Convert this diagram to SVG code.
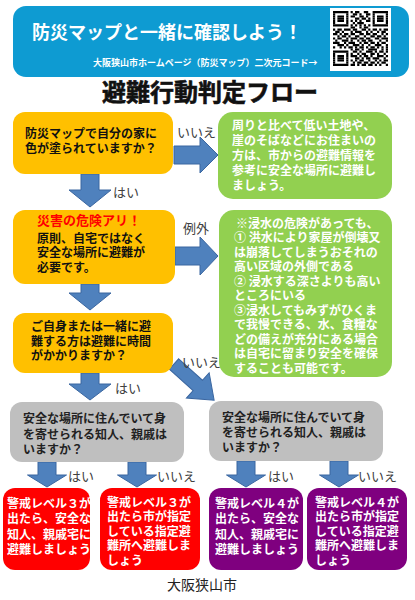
<svg xmlns="http://www.w3.org/2000/svg" width="415" height="600" viewBox="0 0 415 600">
<style>
text{font-family:"Noto Sans CJK JP","Noto Sans CJK SC",sans-serif}
.b{font-weight:bold;font-size:12px}
.wt{fill:#fff}
.dk{fill:#111}
.lbl{font-size:13px;fill:#404040}
.arr{fill:#4F81BD;stroke:#3A66A0;stroke-width:1}
.orange{fill:#FFC000}
.green{fill:#92D050}
.gray{fill:#BFBFBF}
.red{fill:#FF0000}
.purple{fill:#7F007F}
.qr path{stroke:#000;stroke-width:1;fill:none}
</style>
<rect width="415" height="600" fill="#fff"/>
<g id="header">
<rect x="13" y="6" width="396" height="71" rx="13" fill="#0E9BD2"/>
<text x="32" y="39" class="wt" font-size="18" font-weight="bold">防災マップと一緒に確認しよう！</text>
<text x="93" y="65.5" class="wt" font-size="9" font-weight="bold">大阪狭山市ホームページ（防災マップ）二次元コード→</text>
<rect x="330" y="8" width="61" height="63" fill="#fff"/>
<g class="qr" transform="translate(333,11) scale(2.2)">
<path d="M0 .5h25" stroke-dasharray="7 1 1 1 2 2 2 2 7"/>
<path d="M0 1.5h25" stroke-dasharray="1 5 1 2 2 1 1 2 2 1 1 5 1"/>
<path d="M0 2.5h25" stroke-dasharray="1 1 3 1 1 1 2 2 2 1 1 2 1 1 3 1 1"/>
<path d="M0 3.5h25" stroke-dasharray="1 1 3 1 1 3 2 1 2 1 1 1 1 1 3 1 1"/>
<path d="M0 4.5h25" stroke-dasharray="1 1 3 1 1 1 1 1 1 1 1 2 2 1 1 1 3 1 1"/>
<path d="M0 5.5h25" stroke-dasharray="1 5 1 2 1 1 3 4 1 5 1"/>
<path d="M0 6.5h25" stroke-dasharray="7 1 1 1 1 1 1 1 1 1 1 1 7"/>
<path d="M0 7.5h25" stroke-dasharray="0 8 2 2 1 1 2 9"/>
<path d="M0 8.5h25" stroke-dasharray="1 1 2 1 3 1 2 2 2 1 1 1 2 1 1 1 2"/>
<path d="M0 9.5h25" stroke-dasharray="0 1 2 1 1 3 1 1 3 2 1 1 1 2 1 1 2 1"/>
<path d="M0 10.5h25" stroke-dasharray="2 1 1 1 2 1 2 2 2 1 2 1 2 2 1 1 1"/>
<path d="M0 11.5h25" stroke-dasharray="0 2 1 1 2 1 1 2 2 2 1 2 2 1 2 1 1 1"/>
<path d="M0 12.5h25" stroke-dasharray="1 1 2 2 1 1 3 1 2 1 2 2 2 1 3"/>
<path d="M0 13.5h25" stroke-dasharray="0 1 1 2 3 1 1 2 1 1 2 1 2 3 1 2 1"/>
<path d="M0 14.5h25" stroke-dasharray="3 2 1 1 3 2 1 1 2 1 2 1 1 1 2 1"/>
<path d="M0 15.5h25" stroke-dasharray="0 2 3 1 1 2 3 1 1 2 1 2 3 2 1"/>
<path d="M0 16.5h25" stroke-dasharray="1 2 1 1 1 1 2 1 1 1 2 1 1 1 2 1 1 1 1 1 1"/>
<path d="M0 17.5h25" stroke-dasharray="0 8 1 1 2 1 1 2 4 2 1 1 1"/>
<path d="M0 18.5h25" stroke-dasharray="7 2 2 1 1 2 3 1 1 1 2 1 1"/>
<path d="M0 19.5h25" stroke-dasharray="1 5 1 1 1 2 1 1 2 2 2 1 1 2 1 1"/>
<path d="M0 20.5h25" stroke-dasharray="1 1 3 1 1 1 3 1 1 1 2 1 1 2 3 1 1"/>
<path d="M0 21.5h25" stroke-dasharray="1 1 3 1 1 3 2 1 1 1 2 1 3 2 1 1"/>
<path d="M0 22.5h25" stroke-dasharray="1 1 3 1 1 1 1 1 1 1 2 2 1 2 1 1 1 1 2"/>
<path d="M0 23.5h25" stroke-dasharray="1 5 1 2 1 1 2 1 2 1 2 1 1 1 2 1"/>
<path d="M0 24.5h25" stroke-dasharray="7 1 2 1 1 1 2 1 2 1 1 1 1 2 1"/>
</g>
</g>
<g id="title">
<text x="210" y="101" text-anchor="middle" font-size="24" font-weight="bold" fill="#111" stroke="#111" stroke-width="0.6">避難行動判定フロー</text>
</g>
<g id="connectors">
<path class="arr" d="M81 174H99V190H111L90 207L69 190H81Z"/>
<path class="arr" d="M81 284H99V293H111L90 310L69 293H81Z"/>
<path class="arr" d="M81 373H99V384H111L90 400L69 384H81Z"/>
<path class="arr" d="M174 146H200V137L218 155L200 173V164H174Z"/>
<path class="arr" d="M175 247H200V237L218 256L200 275V265H175Z"/>
<path class="arr" transform="translate(174,364) rotate(42)" d="M0 -7H32V-17L54 0L32 17V7H0Z"/>
<path class="arr" d="M38 462H56V475H66.5L47 487L27.5 475H38Z"/>
<path class="arr" d="M128 462H146V475H156.5L137 487L117.5 475H128Z"/>
<path class="arr" d="M237 461H255V475H265.5L246 487L226.5 475H237Z"/>
<path class="arr" d="M330 461H348V475H358.5L339 487L319.5 475H330Z"/>
<text class="lbl" x="177" y="137">いいえ</text>
<text class="lbl" x="113" y="197">はい</text>
<text class="lbl" x="183" y="233">例外</text>
<text class="lbl" x="182" y="367">いいえ</text>
<text class="lbl" x="115" y="393">はい</text>
<text class="lbl" x="68" y="481">はい</text>
<text class="lbl" x="157" y="481">いいえ</text>
<text class="lbl" x="268" y="481">はい</text>
<text class="lbl" x="358" y="481">いいえ</text>
</g>
<g id="q1">
<rect class="orange" x="13" y="112" width="160" height="62" rx="12"/>
<text class="b dk" x="25" y="137.5">防災マップで自分の家に</text>
<text class="b dk" x="25" y="152.5">色が塗られていますか？</text>
</g>
<g id="info1">
<rect class="green" x="218" y="112" width="174" height="87" rx="15"/>
<text class="b wt" x="232" y="129.5">周りと比べて低い土地や、</text>
<text class="b wt" x="232" y="144.7">崖のそばなどにお住まいの</text>
<text class="b wt" x="232" y="159.9">方は、市からの避難情報を</text>
<text class="b wt" x="232" y="175.1">参考に安全な場所に避難し</text>
<text class="b wt" x="232" y="190.3">ましょう。</text>
</g>
<g id="q2">
<rect class="orange" x="13" y="210" width="162" height="74" rx="12"/>
<text x="37" y="225" font-size="13" font-weight="bold" fill="#FF0000">災害の危険アリ！</text>
<text class="b dk" x="37" y="242.5">原則、自宅ではなく</text>
<text class="b dk" x="37" y="257">安全な場所に避難が</text>
<text class="b dk" x="37" y="271.5">必要です。</text>
</g>
<g id="info2">
<rect class="green" x="219" y="210" width="173" height="167" rx="15"/>
<text class="b wt" x="236" y="227.5">※浸水の危険があっても、</text>
<text class="b wt" x="234" y="242">① 洪水により家屋が倒壊又</text>
<text class="b wt" x="234" y="256.5">は崩落してしまうおそれの</text>
<text class="b wt" x="234" y="271">高い区域の外側である</text>
<text class="b wt" x="234" y="285.5">② 浸水する深さよりも高い</text>
<text class="b wt" x="234" y="300">ところにいる</text>
<text class="b wt" x="234" y="314.5">③浸水してもみずがひくま</text>
<text class="b wt" x="234" y="329">で我慢できる、水、食糧な</text>
<text class="b wt" x="234" y="343.5">どの備えが充分にある場合</text>
<text class="b wt" x="234" y="358">は自宅に留まり安全を確保</text>
<text class="b wt" x="234" y="372.5">することも可能です。</text>
</g>
<g id="q3">
<rect class="orange" x="13" y="313" width="160" height="60" rx="12"/>
<text class="b dk" x="31" y="330.5">ご自身または一緒に避</text>
<text class="b dk" x="31" y="345.5">難する方は避難に時間</text>
<text class="b dk" x="31" y="359.5">がかかりますか？</text>
</g>
<g id="q4">
<rect class="gray" x="10" y="402" width="174" height="60" rx="12"/>
<text class="b" fill="#222" x="23" y="422.5">安全な場所に住んでいて身</text>
<text class="b" fill="#222" x="23" y="438.5">を寄せられる知人、親戚は</text>
<text class="b" fill="#222" x="23" y="453.5">いますか？</text>
</g>
<g id="q5">
<rect class="gray" x="209" y="401" width="174" height="60" rx="12"/>
<text class="b" fill="#222" x="222" y="421.5">安全な場所に住んでいて身</text>
<text class="b" fill="#222" x="222" y="437">を寄せられる知人、親戚は</text>
<text class="b" fill="#222" x="222" y="452">いますか？</text>
</g>
<g id="r1">
<rect class="red" x="3" y="488" width="87" height="82" rx="12"/>
<text class="b wt" x="7" y="507.5">警戒レベル３が</text>
<text class="b wt" x="7" y="523">出たら、安全な</text>
<text class="b wt" x="7" y="538.5">知人、親戚宅に</text>
<text class="b wt" x="7" y="554">避難しましょう</text>
</g>
<g id="r2">
<rect class="red" x="100" y="488" width="100" height="82" rx="12"/>
<text class="b wt" x="107" y="506.5">警戒レベル３が</text>
<text class="b wt" x="107" y="521">出たら市が指定</text>
<text class="b wt" x="107" y="535.5">している指定避</text>
<text class="b wt" x="107" y="550">難所へ避難しま</text>
<text class="b wt" x="107" y="564.5">しょう</text>
</g>
<g id="r3">
<rect class="purple" x="209" y="488" width="94" height="82" rx="12"/>
<text class="b wt" x="215" y="507.5">警戒レベル４が</text>
<text class="b wt" x="215" y="523">出たら、安全な</text>
<text class="b wt" x="215" y="538.5">知人、親戚宅に</text>
<text class="b wt" x="215" y="554">避難しましょう</text>
</g>
<g id="r4">
<rect class="purple" x="307" y="488" width="100" height="82" rx="12"/>
<text class="b wt" x="315" y="506.5">警戒レベル４が</text>
<text class="b wt" x="315" y="521">出たら市が指定</text>
<text class="b wt" x="315" y="535.5">している指定避</text>
<text class="b wt" x="315" y="550">難所へ避難しま</text>
<text class="b wt" x="315" y="564.5">しょう</text>
</g>
<g id="footer">
<text x="202" y="590" text-anchor="middle" font-size="14" fill="#222">大阪狭山市</text>
</g>
</svg>
